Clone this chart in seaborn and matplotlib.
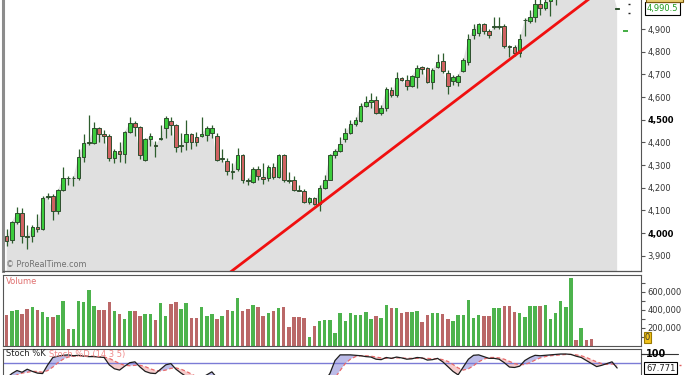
import numpy as np
import pandas as pd
import matplotlib
matplotlib.use("Agg")
import matplotlib.pyplot as plt
import matplotlib.transforms as mtransforms
from matplotlib.patches import Rectangle
import seaborn as sns

# ---------------- data ----------------
opens = [3985, 3968, 4049, 4089, 3989, 3986, 4027, 4017, 4157, 4164,
         4096, 4190, 4245, 4241, 4241, 4336, 4396, 4398, 4462, 4437,
         4428, 4329, 4364, 4348, 4447, 4484, 4469, 4322, 4417, 4390,
         4417, 4462, 4495, 4476, 4386, 4402, 4435, 4422, 4428, 4432,
         4442, 4428, 4325, 4317, 4270, 4281, 4344, 4233, 4226, 4281,
         4248, 4241, 4292, 4248, 4344, 4232, 4236, 4192, 4184, 4138,
         4155, 4127, 4201, 4236, 4344, 4363, 4413, 4442, 4480, 4496,
         4562, 4579, 4587, 4531, 4550, 4631, 4609, 4685, 4675, 4650,
         4690, 4731, 4727, 4667, 4731, 4760, 4707, 4672, 4667, 4716,
         4753, 4875, 4881, 4922, 4893, 4910, 4910, 4913, 4825, 4822,
         4795, 4938, 4937, 4954, 5010, 4991, 5025, 5040, 5060, 5080,
         5090, 5120, 5095, 5105, 5080, 5055, 5060, 5065, 5070, 4990.5]
highs = [4020, 4055, 4113, 4111, 4035, 4035, 4082, 4163, 4179, 4172,
         4194, 4292, 4251, 4251, 4373, 4439, 4523, 4488, 4469, 4455,
         4437, 4372, 4402, 4450, 4513, 4493, 4472, 4418, 4440, 4404,
         4475, 4516, 4511, 4480, 4440, 4498, 4440, 4447, 4511, 4472,
         4476, 4443, 4370, 4330, 4310, 4374, 4350, 4245, 4293, 4295,
         4307, 4300, 4310, 4351, 4350, 4270, 4250, 4213, 4193, 4158,
         4158, 4210, 4258, 4351, 4372, 4424, 4465, 4498, 4512, 4572,
         4606, 4616, 4606, 4564, 4645, 4645, 4712, 4690, 4698, 4698,
         4742, 4737, 4734, 4727, 4790, 4793, 4720, 4696, 4700, 4770,
         4880, 4920, 4926, 4926, 4900, 4954, 4954, 4922, 4829, 4829,
         4880, 4947, 4984, 5035, 5040, 5040, 5060, 5075, 5090, 5100,
         5130, 5125, 5115, 5110, 5085, 5055, 5060, 5065, 5070, 4990.5]
lows = [3942, 3957, 4042, 3958, 3928, 3960, 4005, 4012, 4152, 4057,
        4086, 4186, 4211, 4207, 4236, 4314, 4388, 4395, 4400, 4396,
        4319, 4308, 4314, 4307, 4440, 4430, 4325, 4316, 4386, 4336,
        4410, 4418, 4432, 4358, 4358, 4368, 4371, 4386, 4425, 4407,
        4420, 4318, 4315, 4256, 4240, 4272, 4222, 4212, 4220, 4235,
        4215, 4230, 4240, 4241, 4225, 4222, 4185, 4185, 4131, 4130,
        4123, 4096, 4195, 4232, 4330, 4358, 4400, 4437, 4474, 4490,
        4555, 4550, 4527, 4520, 4540, 4600, 4600, 4670, 4631, 4645,
        4639, 4700, 4660, 4635, 4727, 4705, 4613, 4652, 4648, 4710,
        4740, 4858, 4870, 4880, 4862, 4898, 4898, 4816, 4775, 4780,
        4775, 4869, 4925, 4932, 4962, 4984, 4957, 5006, 5040, 5050,
        5070, 5085, 5075, 5070, 5045, 5055, 5060, 5065, 5070, 4990.5]
closes = [3967, 4049, 4089, 3989, 3984, 4027, 4017, 4155, 4164, 4096,
          4190, 4241, 4241, 4245, 4336, 4398, 4400, 4462, 4437, 4429,
          4329, 4363, 4348, 4447, 4484, 4469, 4344, 4413, 4428, 4386,
          4420, 4506, 4476, 4380, 4390, 4439, 4402, 4402, 4439, 4462,
          4462, 4322, 4329, 4274, 4275, 4344, 4233, 4228, 4281, 4251,
          4239, 4292, 4248, 4344, 4233, 4230, 4192, 4186, 4138, 4155,
          4127, 4201, 4236, 4344, 4363, 4392, 4442, 4480, 4498, 4560,
          4579, 4587, 4531, 4550, 4634, 4609, 4685, 4675, 4650, 4692,
          4727, 4722, 4667, 4719, 4756, 4716, 4648, 4690, 4692, 4763,
          4855, 4900, 4922, 4893, 4875, 4913, 4913, 4825, 4822, 4795,
          4855, 4940, 4954, 5010, 4991, 5021, 5045, 5060, 5080, 5090,
          5120, 5095, 5105, 5080, 5055, 5055, 5060, 5065, 5070, 4990.5]

volume_thousands = [346, 383, 402, 353, 413, 428, 402, 372, 323, 323,
                    346, 495, 188, 188, 495, 484, 619, 439, 402, 402,
                    484, 391, 353, 304, 391, 383, 334, 353, 353, 293,
                    477, 334, 469, 484, 413, 477, 316, 316, 428, 334,
                    353, 304, 334, 402, 383, 533, 383, 409, 450, 428,
                    334, 364, 383, 417, 428, 207, 323, 323, 316, 102,
                    226, 274, 293, 293, 143, 361, 282, 368, 349, 349,
                    379, 301, 331, 312, 458, 417, 424, 361, 379, 379,
                    391, 263, 349, 361, 368, 353, 301, 274, 349, 349,
                    507, 312, 342, 331, 331, 424, 417, 439, 439, 372,
                    361, 323, 439, 439, 439, 450, 304, 361, 495, 428,
                    758, 72, 196, 72, 80]
current_volume = 0

stoch_k = [45, 55, 62, 58, 65, 60, 56, 55, 75, 92,
           95, 97, 98, 96, 97, 95, 94, 94, 93, 92,
           75, 66, 63, 72, 80, 82, 70, 60, 56, 55,
           65, 75, 78, 65, 56, 48, 42, 40, 45, 52,
           59, 45, 38, 30, 28, 35, 25, 22, 28, 25,
           22, 30, 28, 35, 22, 18, 12, 10, 6, 10,
           8, 25, 38, 55, 85, 98, 98, 98, 97, 96,
           94, 93, 88, 87, 92, 90, 93, 91, 88, 89,
           92, 91, 86, 87, 90, 82, 71, 60, 52, 70,
           88, 97, 98, 94, 90, 90, 88, 80, 70, 69,
           72, 85, 92, 97, 96, 97, 98, 99, 100, 100,
           99, 95, 92, 85, 78, 71, 74, 78, 82, 67.771]
stoch_d = [40, 45, 52, 56, 58, 60, 60, 58, 62, 70,
           80, 88, 93, 95, 96, 96, 95, 95, 94, 93,
           90, 84, 78, 74, 73, 74, 74, 71, 66, 62,
           61, 63, 67, 68, 65, 60, 54, 48, 45, 45,
           48, 47, 45, 40, 35, 33, 30, 28, 26, 26,
           25, 26, 27, 29, 28, 25, 20, 16, 12, 10,
           9, 12, 18, 28, 45, 62, 78, 88, 94, 96,
           96, 95, 93, 91, 90, 90, 91, 91, 90, 90,
           90, 90, 90, 89, 89, 87, 83, 76, 68, 63,
           66, 73, 82, 88, 92, 92, 91, 88, 83, 78,
           75, 76, 80, 86, 91, 94, 96, 97, 98, 99,
           99, 98, 96, 92, 87, 82, 78, 76, 77, 75]

price_ticks = [3900, 4000, 4100, 4200, 4300, 4400, 4500, 4600, 4700, 4800, 4900]
bold_price_ticks = [4000, 4500]
volume_ticks = [200000, 400000, 600000]
volume_minor_ticks = [100000, 300000, 500000, 700000]
stoch_ticks = [100]
stoch_level = 80
last_price = 4990.5
trend_idx = [40, 120]
trend_price = [3766, 5144]
side_green_idx = [120.6]
side_green_price = [4893]
side_black_idx = [121.3, 121.3]
side_black_price = [5010, 4972]

# ---------------- figure ----------------
sns.set_style("white")
plt.rcParams["font.family"] = ["DejaVu Sans"]

W, H = 685, 375
fig = plt.figure(figsize=(W / 100, H / 100), dpi=100)
fig.patch.set_facecolor("white")


def rect(x0, y0, x1, y1):
    return [x0 / W, 1 - y1 / H, (x1 - x0) / W, (y1 - y0) / H]


ax = fig.add_axes(rect(3, 0, 641, 271))
axv = fig.add_axes(rect(3, 275, 641, 346))
axs = fig.add_axes(rect(3, 349, 641, 375))

XLIM = (-0.72, 123.65)

o = np.array(opens, float)
h = np.array(highs, float)
l = np.array(lows, float)
c = np.array(closes, float)
idx = np.arange(len(c))
up = c >= o

# ---- main price panel ----
ax.set_facecolor("white")
ax.fill_between(idx, c, 3000, color="#e0e0e0", lw=0, zorder=1)
ax.vlines(idx, l, h, colors="#2e5e2e", lw=0.9, zorder=3)
body_bottom = np.minimum(o, c)
body_h = np.maximum(np.abs(c - o), 1.0)
ax.bar(idx, body_h, bottom=body_bottom, width=0.7,
       color=np.where(up, "#3ccc3c", "#d06262"),
       edgecolor="#2e4e2e", linewidth=0.7, zorder=4)
ax.plot(trend_idx, trend_price, color="#f01010", lw=2.0, zorder=5,
        solid_capstyle="butt")
ax.hlines(side_green_price, np.array(side_green_idx) - 0.5,
          np.array(side_green_idx) + 0.5, colors="#22a022", lw=1.2, zorder=5)
ax.hlines(side_black_price, np.array(side_black_idx) - 0.2,
          np.array(side_black_idx) + 0.2, colors="#222222", lw=1.0, zorder=5)

ax.set_xlim(*XLIM)
ax.set_ylim(3832.8, 5028)
ax.set_xticks([])
ax.yaxis.tick_right()
ax.set_yticks(price_ticks)
ax.set_yticklabels([f"{t:,}" for t in price_ticks])
ax.tick_params(axis="y", direction="out", length=3, width=0.8, colors="#555555",
               labelsize=6, pad=1.5, labelcolor="#333333")
for lbl, t in zip(ax.get_yticklabels(), price_ticks):
    if t in bold_price_ticks:
        lbl.set_fontweight("bold")
        lbl.set_color("black")
ax.spines["top"].set_visible(False)
ax.spines["left"].set_color("#8c8c8c")
ax.spines["left"].set_linewidth(2.2)
ax.spines["right"].set_color("#555555")
ax.spines["right"].set_linewidth(0.8)
ax.spines["bottom"].set_color("#555555")
ax.spines["bottom"].set_linewidth(0.9)

trans_m = mtransforms.blended_transform_factory(ax.transAxes, ax.transData)
ax.text(1.0085, last_price, f"{last_price:,.1f}", transform=trans_m, ha="left",
        va="center", fontsize=6, color="#1f9a1f", clip_on=False,
        bbox=dict(boxstyle="square,pad=0.2", fc="white", ec="black", lw=0.8))
ax.text(0.004, 0.008, "© ProRealTime.com", transform=ax.transAxes, fontsize=5.8,
        color="#707070", va="bottom", ha="left")
fig.add_artist(Rectangle((646 / W, 1 - 2 / H), 37 / W, 10 / H,
                         transform=fig.transFigure, fc="#e8cc70", ec="#7a5a10", lw=0.8))

# ---- volume panel ----
n_vol = len(volume_thousands)
vdf = pd.DataFrame({
    "bar": idx[:n_vol],
    "volume": np.array(volume_thousands) * 1000,
    "direction": np.where(up[:n_vol], "up", "down"),
})
sns.barplot(data=vdf, x="bar", y="volume", hue="direction",
            palette={"up": "#3cc43c", "down": "#c85a5a"}, dodge=False,
            native_scale=True, width=0.68, errorbar=None, legend=False,
            linewidth=0, ax=axv)
axv.set_xlim(*XLIM)
axv.set_ylim(0, 787600)
axv.set_xlabel("")
axv.set_ylabel("")
axv.set_xticks([])
axv.yaxis.tick_right()
axv.set_yticks(volume_ticks)
axv.set_yticklabels([f"{t:,}" for t in volume_ticks])
axv.set_yticks(volume_minor_ticks, minor=True)
axv.tick_params(axis="y", which="both", direction="out", length=3, width=0.8,
                colors="#555555", labelsize=6, pad=1.5, labelcolor="#333333")
for s in axv.spines.values():
    s.set_color("#555555")
    s.set_linewidth(0.8)
axv.text(0.005, 0.97, "Volume", transform=axv.transAxes, fontsize=6,
         color="#e07070", va="top", ha="left")
axv.text(1.006, 0.12, f"{current_volume}", transform=axv.transAxes, fontsize=6,
         color="#333333", va="center", ha="left", clip_on=False,
         bbox=dict(boxstyle="square,pad=0.15", fc="#f2c21a", ec="#9a7a00", lw=0.8))

# ---- stochastic panel ----
k = np.array(stoch_k, float)
d = np.array(stoch_d, float)
axs.fill_between(idx, k, d, where=k >= d, interpolate=True, color="#bcbce8",
                 lw=0, zorder=1)
axs.fill_between(idx, k, d, where=k < d, interpolate=True, color="#f6cccc",
                 lw=0, zorder=1)
axs.axhline(stoch_level, color="#7b7bd6", lw=1.0, zorder=2)
sdf = pd.DataFrame({"bar": idx, "K": k, "D": d})
sns.lineplot(data=sdf, x="bar", y="D", color="#e86a6a", lw=0.9,
             linestyle=(0, (3, 2)), ax=axs, zorder=3)
sns.lineplot(data=sdf, x="bar", y="K", color="#1e1e1e", lw=0.9, ax=axs, zorder=4)
axs.set_xlim(*XLIM)
axs.set_ylim(51.7, 111.5)
axs.set_xlabel("")
axs.set_ylabel("")
axs.set_xticks([])
axs.yaxis.tick_right()
axs.set_yticks(stoch_ticks)
axs.set_yticklabels([])
axs.tick_params(axis="y", direction="out", length=3, width=0.8, colors="#555555")
axs.spines["bottom"].set_visible(False)
for side in ("top", "left", "right"):
    axs.spines[side].set_color("#555555")
    axs.spines[side].set_linewidth(0.8)
trans_s = mtransforms.blended_transform_factory(axs.transAxes, axs.transData)
for t in stoch_ticks:
    axs.plot([1.0, 1.058], [t, t], transform=trans_s, color="#333333", lw=0.8,
             clip_on=False, zorder=5)
    axs.text(1.0085, t, str(t), transform=trans_s, ha="left", va="center",
             fontsize=7, fontweight="bold", color="black", clip_on=False,
             zorder=6)
axs.plot([1.006, 1.062], [d[-1], d[-1]], transform=trans_s, color="#e06060",
         ls=(0, (2, 1.5)), lw=1.0, clip_on=False)
axs.text(1.008, k[-1], f"{k[-1]:.3f}", transform=trans_s, ha="left", va="center",
         fontsize=6, color="#222222", clip_on=False,
         bbox=dict(boxstyle="square,pad=0.2", fc="white", ec="black", lw=0.8))
fig.text(6 / W, 1 - 354 / H, "Stoch %K", fontsize=6, color="#222222",
         va="center", ha="left")
fig.text(49 / W, 1 - 354 / H, "Stoch %D (14 3 5)", fontsize=6, color="#f08a8a",
         va="center", ha="left")

fig.savefig("out.png", dpi=100)
